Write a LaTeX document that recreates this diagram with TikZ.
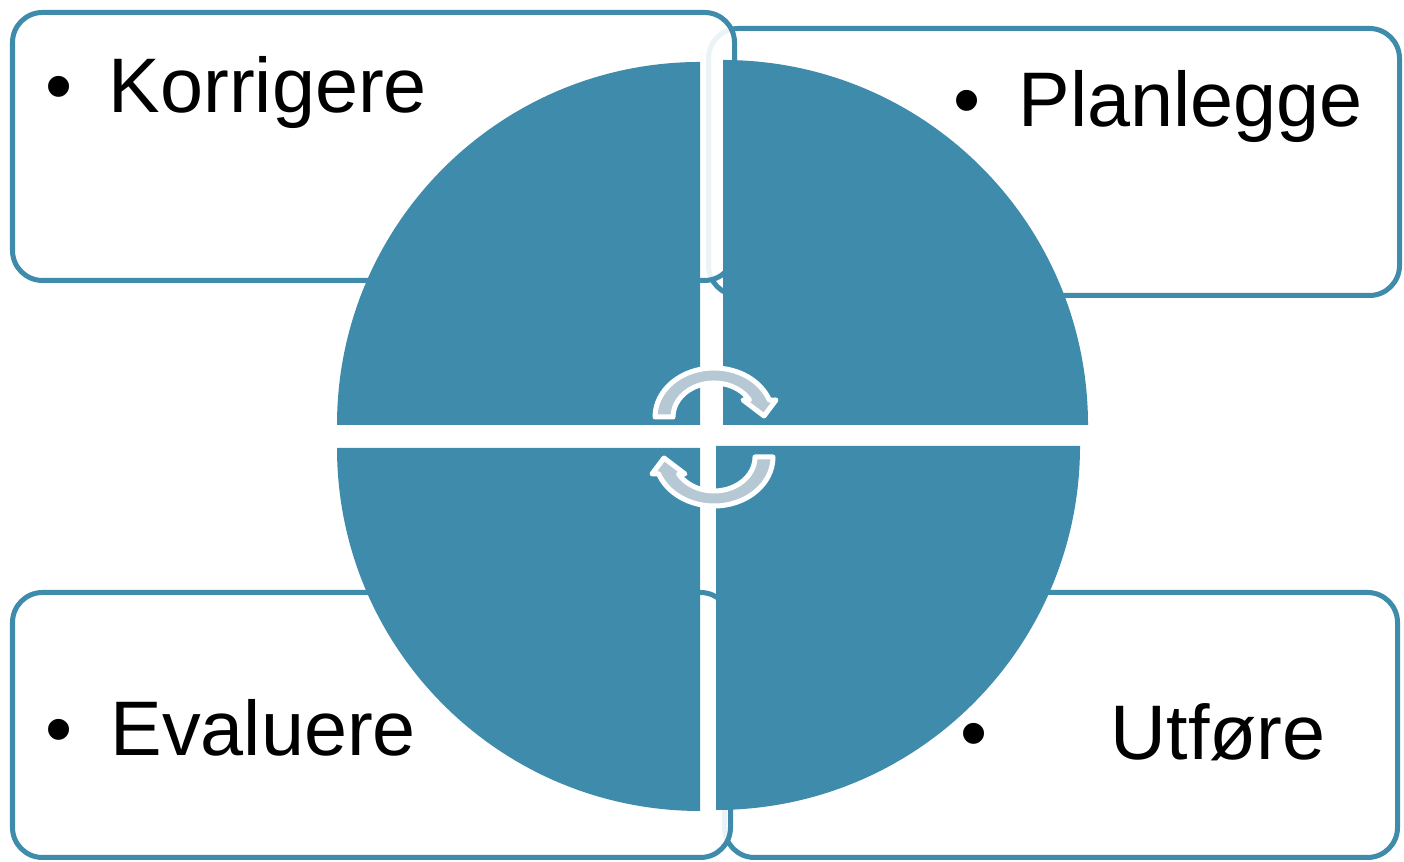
\documentclass[tikz,border=0pt]{standalone}
\usepackage{fontspec}
\setmainfont{Liberation Sans}
\definecolor{cycteal}{RGB}{62,139,171}
\definecolor{cycarrow}{RGB}{181,200,212}
\tikzset{
  stagebox/.style={draw=cycteal,line width=0.05cm,rounded corners=0.3cm,fill=white,fill opacity=0.9},
  quarter/.style={fill=cycteal},
  turn/.style={fill=cycarrow,draw=white,line width=0.05cm,line join=round},
  stage/.style={anchor=base west,inner sep=0pt,font=\fontsize{22}{26}\selectfont},
}
\newcommand{\bulleted}[2]{\makebox[#1][l]{\textbullet}#2}

\begin{document}
\begin{tikzpicture}[x=0.01cm,y=0.01cm]
\useasboundingbox (0,0) rectangle (1404,862);
\draw[stagebox] (708.5,566.5) rectangle (1399.5,833.5); \draw[stagebox] (12.5,581.5) rectangle (734.5,849.5);
\draw[stagebox] (724.5,4.5) rectangle (1397.5,269.5); \draw[stagebox] (12.5,4.5) rectangle (730.5,269.5);
\fill[quarter] (700,437) -- (337,437) arc[start angle=180,end angle=90,radius=363] -- cycle;
\fill[quarter] (723,437) -- (723,802) arc[start angle=90,end angle=0,radius=365] -- cycle;
\fill[quarter] (700,414) -- (700,51) arc[start angle=270,end angle=180,radius=363] -- cycle;
\fill[quarter] (716,416) -- (1080,416) arc[start angle=0,end angle=-90,radius=364] -- cycle;
\draw[turn] (673,445) -- (655,445) arc[start angle=180,end angle=20,x radius=59,y radius=49] -- (776,462) -- (764,446) -- (743,462) -- (749.5,462) arc[start angle=30,end angle=180,x radius=41,y radius=34] -- cycle;
\draw[turn,rotate around={180:(714,425)}] (673,445) -- (655,445) arc[start angle=180,end angle=20,x radius=59,y radius=49] -- (776,462) -- (764,446) -- (743,462) -- (749.5,462) arc[start angle=30,end angle=180,x radius=41,y radius=34] -- cycle;
\node[stage] (kor) at (45,749) {\bulleted{0.63cm}{Korrigere}};
\node[stage] (plan) at (953,735) {\bulleted{0.65cm}{Planlegge}};
\node[stage] (eval) at (45,106) {\bulleted{0.65cm}{Evaluere}};
\node[stage] (utf) at (960,102) {\bulleted{1.5cm}{Utføre}};
\end{tikzpicture}
\end{document}
